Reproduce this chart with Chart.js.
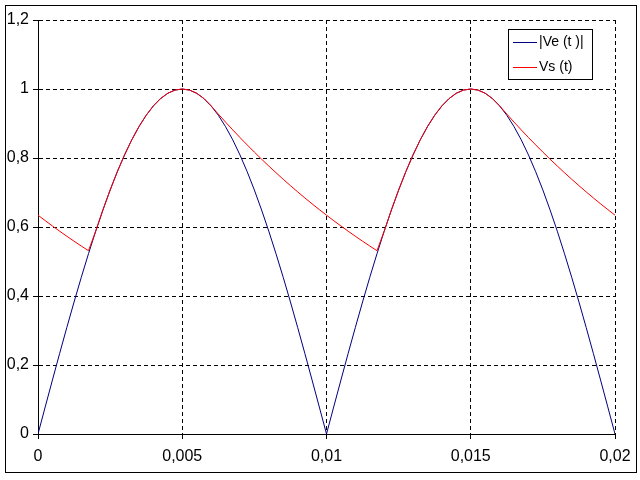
<!DOCTYPE html>
<html>
<head>
<meta charset="utf-8">
<script src="https://cdn.jsdelivr.net/npm/chart.js@4/dist/chart.umd.min.js"></script>
<style>
html, body { margin: 0; padding: 0; background: #ffffff; }
canvas { display: block; }
</style>
</head>
<body>
<canvas id="chart" width="640" height="480"></canvas>
<script>
// ---- Data ----
const seriesNames = ['|Ve (t )|', 'Vs (t)'];

const time = [
  0, 0.00025, 0.0005, 0.00075, 0.001, 0.00125, 0.0015, 0.00175,
  0.002, 0.00225, 0.0025, 0.00275, 0.003, 0.00325, 0.0035, 0.00375,
  0.004, 0.00425, 0.0045, 0.00475, 0.005, 0.00525, 0.0055, 0.00575,
  0.006, 0.00625, 0.0065, 0.00675, 0.007, 0.00725, 0.0075, 0.00775,
  0.008, 0.00825, 0.0085, 0.00875, 0.009, 0.00925, 0.0095, 0.00975,
  0.01, 0.01025, 0.0105, 0.01075, 0.011, 0.01125, 0.0115, 0.01175,
  0.012, 0.01225, 0.0125, 0.01275, 0.013, 0.01325, 0.0135, 0.01375,
  0.014, 0.01425, 0.0145, 0.01475, 0.015, 0.01525, 0.0155, 0.01575,
  0.016, 0.01625, 0.0165, 0.01675, 0.017, 0.01725, 0.0175, 0.01775,
  0.018, 0.01825, 0.0185, 0.01875, 0.019, 0.01925, 0.0195, 0.01975,
  0.02
];

const veValues = [
  0, 0.0785, 0.1564, 0.2334, 0.309, 0.3827, 0.454, 0.5225,
  0.5878, 0.6494, 0.7071, 0.7604, 0.809, 0.8526, 0.891, 0.9239,
  0.9511, 0.9724, 0.9877, 0.9969, 1, 0.9969, 0.9877, 0.9724,
  0.9511, 0.9239, 0.891, 0.8526, 0.809, 0.7604, 0.7071, 0.6494,
  0.5878, 0.5225, 0.454, 0.3827, 0.309, 0.2334, 0.1564, 0.0785,
  0, 0.0785, 0.1564, 0.2334, 0.309, 0.3827, 0.454, 0.5225,
  0.5878, 0.6494, 0.7071, 0.7604, 0.809, 0.8526, 0.891, 0.9239,
  0.9511, 0.9724, 0.9877, 0.9969, 1, 0.9969, 0.9877, 0.9724,
  0.9511, 0.9239, 0.891, 0.8526, 0.809, 0.7604, 0.7071, 0.6494,
  0.5878, 0.5225, 0.454, 0.3827, 0.309, 0.2334, 0.1564, 0.0785,
  0
];

const vsValues = [
  0.6343, 0.6184, 0.6029, 0.5879, 0.5732, 0.5588, 0.5449, 0.5313,
  0.5878, 0.6494, 0.7071, 0.7604, 0.809, 0.8526, 0.891, 0.9239,
  0.9511, 0.9724, 0.9877, 0.9969, 1, 0.9969, 0.9877, 0.9724,
  0.9511, 0.9273, 0.9041, 0.8815, 0.8595, 0.838, 0.8171, 0.7966,
  0.7767, 0.7573, 0.7383, 0.7199, 0.7019, 0.6843, 0.6672, 0.6505,
  0.6343, 0.6184, 0.6029, 0.5879, 0.5732, 0.5588, 0.5449, 0.5313,
  0.5878, 0.6494, 0.7071, 0.7604, 0.809, 0.8526, 0.891, 0.9239,
  0.9511, 0.9724, 0.9877, 0.9969, 1, 0.9969, 0.9877, 0.9724,
  0.9511, 0.9273, 0.9041, 0.8815, 0.8595, 0.838, 0.8171, 0.7966,
  0.7767, 0.7573, 0.7383, 0.7199, 0.7019, 0.6843, 0.6672, 0.6505,
  0.6343
];

const xTickLabels = ['0', '0,005', '0,01', '0,015', '0,02'];
const yTickLabels = ['0', '0,2', '0,4', '0,6', '0,8', '1', '1,2'];

// ---- Build chart ----
const toPoints = (xs, ys) => xs.map((x, i) => ({ x: x, y: ys[i] }));

const FONT = "'Liberation Sans', Arial, sans-serif";

const backgroundAndFrame = {
  id: 'backgroundAndFrame',
  beforeDraw(chart) {
    const ctx = chart.ctx;
    ctx.save();
    ctx.fillStyle = '#ffffff';
    ctx.fillRect(0, 0, chart.width, chart.height);
    ctx.restore();
  },
  afterDraw(chart) {
    const ctx = chart.ctx;
    ctx.save();
    // outer chart frame
    ctx.strokeStyle = '#000000';
    ctx.lineWidth = 1;
    ctx.strokeRect(5.5, 5.5, 631, 467);
    // legend box
    ctx.fillStyle = '#ffffff';
    ctx.fillRect(508, 29, 85, 51);
    ctx.strokeRect(508.5, 29.5, 84, 50);
    const ds = chart.data.datasets;
    const rows = [42.5, 67.5];
    ds.forEach((d, i) => {
      ctx.strokeStyle = d.borderColor;
      ctx.lineWidth = 1;
      ctx.beginPath();
      ctx.moveTo(513, rows[i]);
      ctx.lineTo(537, rows[i]);
      ctx.stroke();
      ctx.fillStyle = '#000000';
      ctx.font = '14px ' + FONT;
      ctx.textBaseline = 'middle';
      ctx.textAlign = 'left';
      ctx.fillText(d.label, 539, rows[i]);
    });
    ctx.restore();
  }
};

new Chart(document.getElementById('chart'), {
  type: 'line',
  data: {
    datasets: [
      {
        label: seriesNames[0],
        data: toPoints(time, veValues),
        borderColor: '#000080',
        borderWidth: 1,
        pointRadius: 0,
        tension: 0,
        fill: false,
        order: 1
      },
      {
        label: seriesNames[1],
        data: toPoints(time, vsValues),
        borderColor: '#ff0000',
        borderWidth: 1,
        pointRadius: 0,
        tension: 0,
        fill: false,
        order: 0
      }
    ]
  },
  options: {
    responsive: false,
    animation: false,
    devicePixelRatio: 1,
    layout: { padding: { left: 0, top: 20, right: 25, bottom: 0 } },
    plugins: {
      legend: { display: false },
      tooltip: { enabled: false },
      title: { display: false }
    },
    scales: {
      x: {
        type: 'linear',
        min: 0,
        max: 0.02,
        afterFit: (s) => { s.height = 46; },
        ticks: {
          stepSize: 0.005,
          color: '#000000',
          font: { family: FONT, size: 16 },
          padding: 8,
          maxRotation: 0,
          callback: (v, i) => xTickLabels[i]
        },
        grid: {
          color: '#000000',
          lineWidth: 1,
          tickLength: 5,
          tickColor: '#000000',
          tickBorderDash: []
        },
        border: { display: true, color: '#000000', width: 1, dash: [4, 3] }
      },
      y: {
        type: 'linear',
        min: 0,
        max: 1.2,
        afterFit: (s) => { s.width = 38; },
        ticks: {
          stepSize: 0.2,
          color: '#000000',
          font: { family: FONT, size: 16 },
          padding: 4,
          callback: (v, i) => yTickLabels[i]
        },
        grid: {
          color: '#000000',
          lineWidth: 1,
          tickLength: 5,
          tickColor: '#000000',
          tickBorderDash: []
        },
        border: { display: true, color: '#000000', width: 1, dash: [4, 3] }
      }
    }
  },
  plugins: [backgroundAndFrame]
});
</script>
</body>
</html>
